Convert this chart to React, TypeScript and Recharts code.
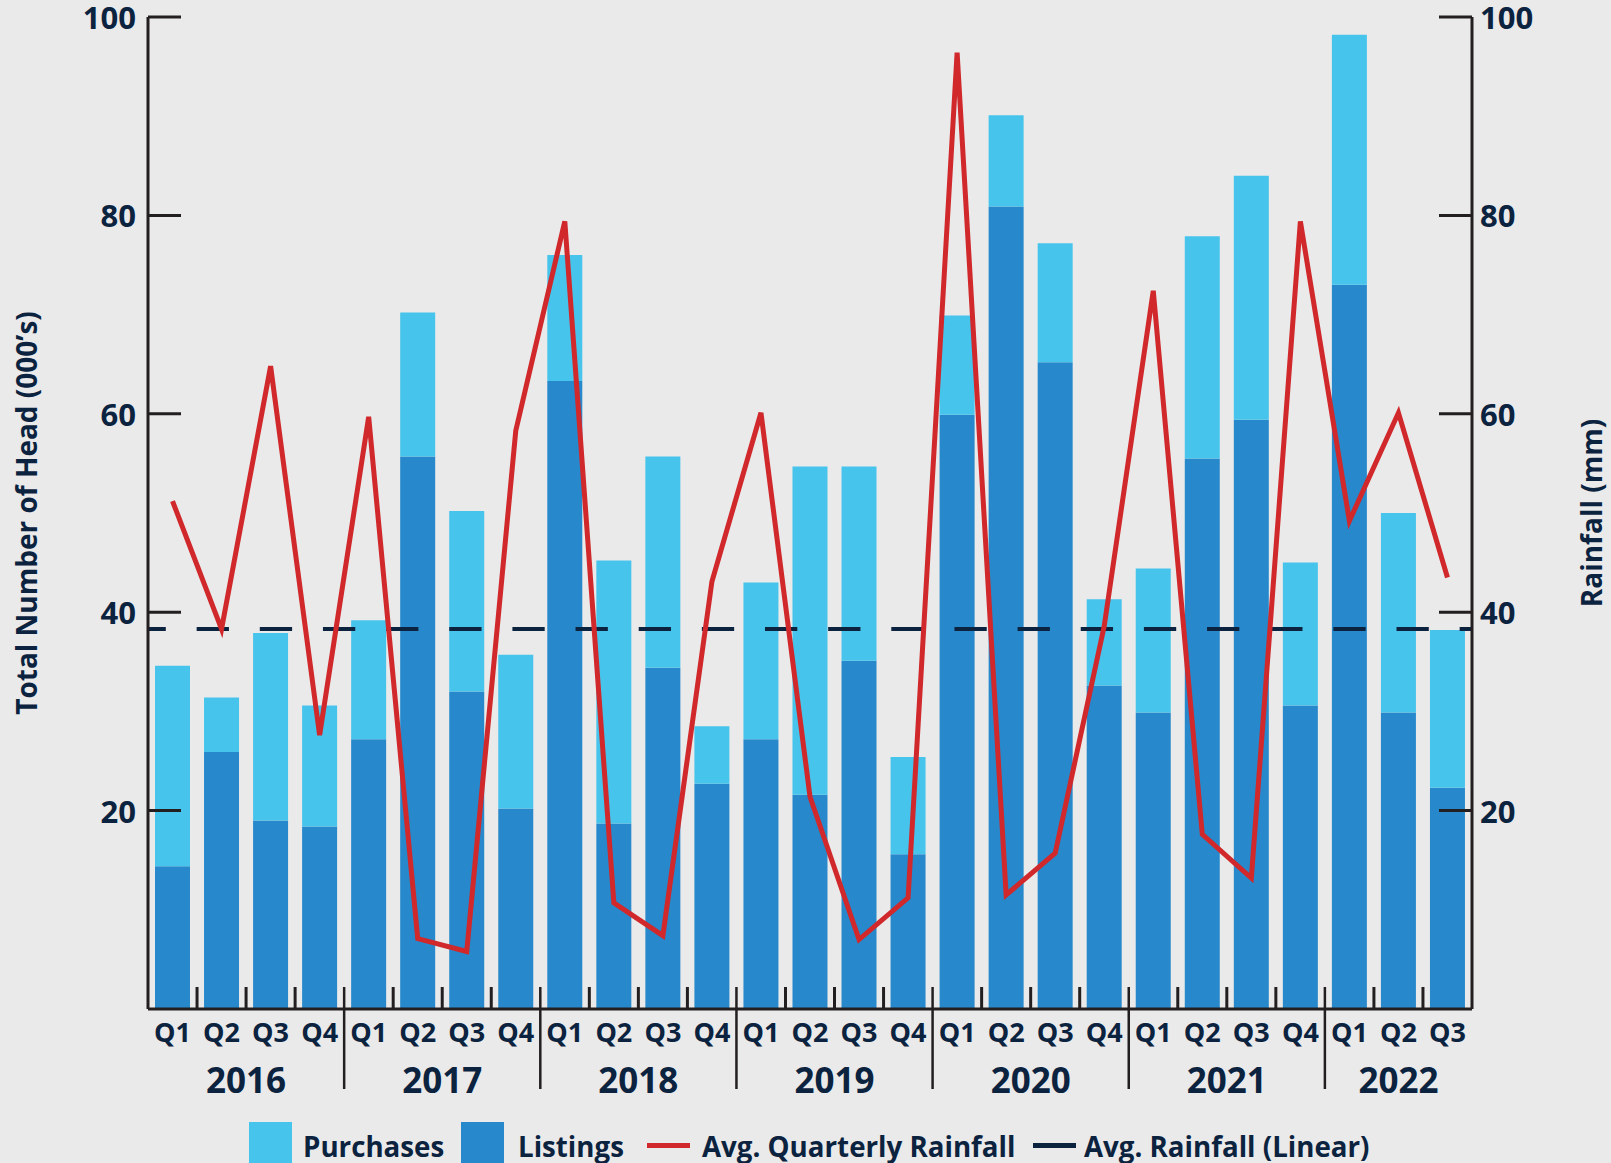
import React from 'react';
import { ComposedChart, Bar, Line, XAxis, YAxis, ReferenceLine } from 'recharts';

const periods = [
  '2016 Q1', '2016 Q2', '2016 Q3', '2016 Q4',
  '2017 Q1', '2017 Q2', '2017 Q3', '2017 Q4',
  '2018 Q1', '2018 Q2', '2018 Q3', '2018 Q4',
  '2019 Q1', '2019 Q2', '2019 Q3', '2019 Q4',
  '2020 Q1', '2020 Q2', '2020 Q3', '2020 Q4',
  '2021 Q1', '2021 Q2', '2021 Q3', '2021 Q4',
  '2022 Q1', '2022 Q2', '2022 Q3',
];

// thousands of head
const listings = [
  14.4, 25.9, 19.0, 18.4,
  27.2, 55.7, 32.0, 20.2,
  63.3, 18.7, 34.4, 22.7,
  27.2, 21.6, 35.1, 15.6,
  59.9, 80.9, 65.2, 32.6,
  29.9, 55.5, 59.4, 30.6,
  73.0, 29.9, 22.3,
];
const purchases = [
  20.2, 5.5, 18.9, 12.2,
  12.0, 14.5, 18.2, 15.5,
  12.7, 26.5, 21.3, 5.8,
  15.8, 33.1, 19.6, 9.8,
  10.0, 9.2, 12.0, 8.7,
  14.5, 22.4, 24.6, 14.4,
  25.2, 20.1, 15.9,
];

// mm
const avgQuarterlyRainfall = [
  51.2, 38.3, 64.8, 27.6,
  59.7, 7.1, 5.8, 58.3,
  79.4, 10.7, 7.4, 43.1,
  60.1, 21.4, 7.0, 11.2,
  96.4, 11.5, 15.7, 38.6,
  72.4, 17.6, 13.2, 79.4,
  49.2, 60.1, 43.5,
];
// linear trend of rainfall comes out flat
const avgRainfallLinear = 38.3;

const yTicks = [20, 40, 60, 80, 100];

const data = periods.map((p, i) => ({
  period: p,
  listings: listings[i],
  purchases: purchases[i],
  rainfall: avgQuarterlyRainfall[i],
}));

const W = 1611;
const H = 1163;
const LEFT_W = 148;
const RIGHT_W = 139;
const BAND = (W - LEFT_W - RIGHT_W) / periods.length;

const NAVY = '#0c2340';
const AXIS = '#231f20';
const LIGHT = '#47c4eb';
const DARK = '#2789cb';
const RED = '#d0282b';
const FONT = "'Open Sans', sans-serif";

const LeftTick = ({ x, y, payload }: any) => (
  <g>
    <line x1={x + 12} x2={x + 45} y1={y} y2={y} stroke={AXIS} strokeWidth={3} />
    <text x={x} y={y} textAnchor="end" dominantBaseline="central"
      fill={NAVY} fontFamily={FONT} fontWeight={700} fontSize={31}>
      {payload.value}
    </text>
  </g>
);

const RightTick = ({ x, y, payload }: any) => (
  <g>
    <line x1={x - 8 - 33} x2={x - 8} y1={y} y2={y} stroke={AXIS} strokeWidth={3} />
    <text x={x} y={y} textAnchor="start" dominantBaseline="central"
      fill={NAVY} fontFamily={FONT} fontWeight={700} fontSize={31}>
      {payload.value}
    </text>
  </g>
);

const PeriodTick = ({ x, y, payload }: any) => {
  const value = String(payload.value);
  const i = periods.indexOf(value);
  const [year, q] = value.split(' ');
  const inYear = periods.filter((p) => p.startsWith(year));
  const first = periods.indexOf(inYear[0]);
  const left = x - BAND / 2;
  return (
    <g>
      {i > 0 && (
        <line x1={left} x2={left} y1={y - 22} y2={q === 'Q1' ? y + 80 : y}
          stroke={AXIS} strokeWidth={q === 'Q1' ? 2.5 : 3} />
      )}
      <text x={x} y={y + 22} textAnchor="middle" dominantBaseline="central"
        fill={NAVY} fontFamily={FONT} fontWeight={700} fontSize={27}>
        {q}
      </text>
      {i === first && (
        <text x={x + ((inYear.length - 1) / 2) * BAND} y={y + 70} textAnchor="middle"
          dominantBaseline="central" fill={NAVY} fontFamily={FONT} fontWeight={700} fontSize={35}>
          {year}
        </text>
      )}
    </g>
  );
};

const legendItems = [
  { label: 'Purchases', color: LIGHT, kind: 'box', left: 249, textGap: 54 },
  { label: 'Listings', color: DARK, kind: 'box', left: 461, textGap: 57 },
  { label: 'Avg. Quarterly Rainfall', color: RED, kind: 'line', left: 647, textGap: 55 },
  { label: 'Avg. Rainfall (Linear)', color: NAVY, kind: 'line', left: 1033, textGap: 51 },
];

const axisTitle = { textAnchor: 'middle', fill: NAVY, fontFamily: FONT, fontWeight: 700, fontSize: 28 } as any;

export default function App() {
  return (
    <div style={{ position: 'absolute', left: 0, top: 0, width: W, height: H, overflow: 'hidden', background: '#eaeaea' }}>
      <ComposedChart width={W} height={H} data={data}
        margin={{ top: 17, right: 0, bottom: 0, left: 0 }} barSize={35}>
        <XAxis dataKey="period" xAxisId="x" height={154} interval={0}
          axisLine={{ stroke: AXIS, strokeWidth: 3 }} tickLine={false} tickSize={0} tickMargin={0}
          tick={<PeriodTick />} />
        <YAxis yAxisId="left" orientation="left" width={LEFT_W} domain={[0, 100]} ticks={yTicks}
          axisLine={{ stroke: AXIS, strokeWidth: 3 }} tickLine={false} tickSize={0} tickMargin={12}
          tick={<LeftTick />}
          label={{ value: 'Total Number of Head (000’s)', angle: -90, position: 'insideLeft', offset: 27, style: axisTitle }} />
        <YAxis yAxisId="right" orientation="right" width={RIGHT_W} domain={[0, 100]} ticks={yTicks}
          axisLine={{ stroke: AXIS, strokeWidth: 3 }} tickLine={false} tickSize={0} tickMargin={8}
          tick={<RightTick />}
          label={{ value: 'Rainfall (mm)', angle: -90, position: 'insideRight', offset: 19, style: axisTitle }} />
        <Bar dataKey="listings" stackId="head" xAxisId="x" yAxisId="left" fill={DARK} isAnimationActive={false} />
        <Bar dataKey="purchases" stackId="head" xAxisId="x" yAxisId="left" fill={LIGHT} isAnimationActive={false} />
        <ReferenceLine y={avgRainfallLinear} xAxisId="x" yAxisId="right" stroke={NAVY} strokeWidth={4}
          strokeDasharray="32.3 30.85" strokeDashoffset={19.95} />
        <Line dataKey="rainfall" type="linear" xAxisId="x" yAxisId="right" stroke={RED} strokeWidth={5}
          dot={false} activeDot={false} isAnimationActive={false} />
      </ComposedChart>
      {legendItems.map((it) => (
        <div key={it.label} style={{ position: 'absolute', left: it.left, top: 1122, height: 48 }}>
          {it.kind === 'box' ? (
            <div style={{ position: 'absolute', left: 0, top: 0, width: 43, height: 43, background: it.color }} />
          ) : (
            <div style={{ position: 'absolute', left: 0, top: 21, width: 43, height: 5, background: it.color }} />
          )}
          <span style={{ position: 'absolute', left: it.textGap, top: 0, lineHeight: '48px', whiteSpace: 'nowrap',
            fontFamily: FONT, fontWeight: 700, fontSize: 27.7, color: NAVY }}>{it.label}</span>
        </div>
      ))}
    </div>
  );
}
